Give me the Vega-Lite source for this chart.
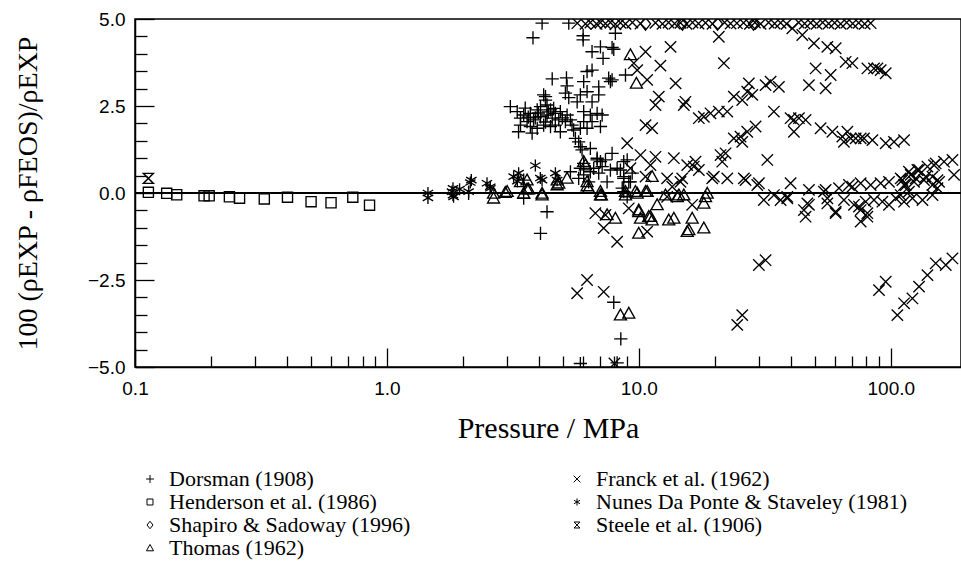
{
  "$schema": "https://vega.github.io/schema/vega-lite/v6.json",
  "width": 826,
  "height": 348,
  "autosize": {"type": "none"},
  "padding": {"left": 135, "top": 19, "right": 0, "bottom": 196},
  "background": "white",
  "config": {
    "view": {"stroke": "black", "strokeWidth": 1.5},
    "axis": {"grid": false, "tickColor": "black", "tickWidth": 1.3, "domainColor": "black", "domainWidth": 1.5, "labelColor": "black", "labelFont": "Liberation Sans", "labelFontSize": 19, "titleColor": "black", "titleFont": "Liberation Serif", "titleFontWeight": "normal"},
    "legend": {"labelFont": "serif", "labelFontSize": 22, "labelColor": "black"}
  },
  "data": {"values": [
    {"source":"Henderson et al. (1986)","p":0.113,"d":0.02},
    {"source":"Henderson et al. (1986)","p":0.1336,"d":-0.01},
    {"source":"Henderson et al. (1986)","p":0.1464,"d":-0.05},
    {"source":"Henderson et al. (1986)","p":0.188,"d":-0.08},
    {"source":"Henderson et al. (1986)","p":0.197,"d":-0.08},
    {"source":"Henderson et al. (1986)","p":0.237,"d":-0.11},
    {"source":"Henderson et al. (1986)","p":0.26,"d":-0.15},
    {"source":"Henderson et al. (1986)","p":0.326,"d":-0.17},
    {"source":"Henderson et al. (1986)","p":0.403,"d":-0.12},
    {"source":"Henderson et al. (1986)","p":0.50,"d":-0.25},
    {"source":"Henderson et al. (1986)","p":0.60,"d":-0.28},
    {"source":"Henderson et al. (1986)","p":0.732,"d":-0.12},
    {"source":"Henderson et al. (1986)","p":0.853,"d":-0.35},
    {"source":"Steele et al. (1906)","p":0.113,"d":0.42},
    {"source":"Shapiro & Sadoway (1996)","p":10.63,"d":4.86},
    {"source":"Shapiro & Sadoway (1996)","p":14.9,"d":4.86},
    {"source":"Shapiro & Sadoway (1996)","p":20.53,"d":4.86},
    {"source":"Shapiro & Sadoway (1996)","p":28.53,"d":4.86},
    {"source":"Nunes Da Ponte & Staveley (1981)","p":1.455,"d":0.0},
    {"source":"Nunes Da Ponte & Staveley (1981)","p":1.455,"d":-0.14},
    {"source":"Nunes Da Ponte & Staveley (1981)","p":1.829,"d":0.135},
    {"source":"Nunes Da Ponte & Staveley (1981)","p":1.829,"d":-0.06},
    {"source":"Nunes Da Ponte & Staveley (1981)","p":1.943,"d":0.11},
    {"source":"Nunes Da Ponte & Staveley (1981)","p":2.143,"d":0.30},
    {"source":"Nunes Da Ponte & Staveley (1981)","p":2.163,"d":0.37},
    {"source":"Nunes Da Ponte & Staveley (1981)","p":2.496,"d":0.28},
    {"source":"Nunes Da Ponte & Staveley (1981)","p":2.573,"d":0.18},
    {"source":"Nunes Da Ponte & Staveley (1981)","p":3.184,"d":0.47},
    {"source":"Nunes Da Ponte & Staveley (1981)","p":3.333,"d":0.57},
    {"source":"Nunes Da Ponte & Staveley (1981)","p":3.294,"d":0.34},
    {"source":"Nunes Da Ponte & Staveley (1981)","p":3.883,"d":0.79},
    {"source":"Nunes Da Ponte & Staveley (1981)","p":4.128,"d":0.37},
    {"source":"Nunes Da Ponte & Staveley (1981)","p":4.664,"d":0.57},
    {"source":"Nunes Da Ponte & Staveley (1981)","p":4.737,"d":0.37},
    {"source":"Nunes Da Ponte & Staveley (1981)","p":4.064,"d":0.43},
    {"source":"Nunes Da Ponte & Staveley (1981)","p":1.812,"d":0.04},
    {"source":"Nunes Da Ponte & Staveley (1981)","p":1.839,"d":-0.11},
    {"source":"Nunes Da Ponte & Staveley (1981)","p":2.11,"d":0.04},
    {"source":"Nunes Da Ponte & Staveley (1981)","p":2.573,"d":0.135},
    {"source":"Dorsman (1908)","p":4.13,"d":4.88},
    {"source":"Dorsman (1908)","p":3.80,"d":4.46},
    {"source":"Dorsman (1908)","p":6.01,"d":4.52},
    {"source":"Dorsman (1908)","p":6.01,"d":4.40},
    {"source":"Dorsman (1908)","p":6.52,"d":4.06},
    {"source":"Dorsman (1908)","p":7.04,"d":4.20},
    {"source":"Dorsman (1908)","p":7.21,"d":3.87},
    {"source":"Dorsman (1908)","p":7.83,"d":4.18},
    {"source":"Dorsman (1908)","p":4.53,"d":3.28},
    {"source":"Dorsman (1908)","p":5.16,"d":3.31},
    {"source":"Dorsman (1908)","p":5.19,"d":3.08},
    {"source":"Dorsman (1908)","p":6.23,"d":3.49},
    {"source":"Dorsman (1908)","p":6.52,"d":3.53},
    {"source":"Dorsman (1908)","p":6.04,"d":3.20},
    {"source":"Dorsman (1908)","p":7.59,"d":3.30},
    {"source":"Dorsman (1908)","p":7.71,"d":3.20},
    {"source":"Dorsman (1908)","p":5.11,"d":2.87},
    {"source":"Dorsman (1908)","p":5.27,"d":2.74},
    {"source":"Dorsman (1908)","p":5.86,"d":2.82},
    {"source":"Dorsman (1908)","p":6.23,"d":2.91},
    {"source":"Dorsman (1908)","p":6.93,"d":3.05},
    {"source":"Dorsman (1908)","p":6.93,"d":2.82},
    {"source":"Dorsman (1908)","p":4.19,"d":2.82},
    {"source":"Dorsman (1908)","p":4.26,"d":2.67},
    {"source":"Dorsman (1908)","p":5.69,"d":2.62},
    {"source":"Dorsman (1908)","p":6.52,"d":2.62},
    {"source":"Dorsman (1908)","p":3.09,"d":2.48},
    {"source":"Dorsman (1908)","p":3.29,"d":2.34},
    {"source":"Dorsman (1908)","p":3.49,"d":2.24},
    {"source":"Dorsman (1908)","p":3.71,"d":2.29},
    {"source":"Dorsman (1908)","p":3.95,"d":2.39},
    {"source":"Dorsman (1908)","p":4.07,"d":2.48},
    {"source":"Dorsman (1908)","p":4.32,"d":2.53},
    {"source":"Dorsman (1908)","p":4.59,"d":2.43},
    {"source":"Dorsman (1908)","p":4.88,"d":2.34},
    {"source":"Dorsman (1908)","p":5.19,"d":2.24},
    {"source":"Dorsman (1908)","p":3.39,"d":2.15},
    {"source":"Dorsman (1908)","p":3.60,"d":2.05},
    {"source":"Dorsman (1908)","p":3.82,"d":2.10},
    {"source":"Dorsman (1908)","p":4.07,"d":2.19},
    {"source":"Dorsman (1908)","p":4.32,"d":2.24},
    {"source":"Dorsman (1908)","p":4.53,"d":2.15},
    {"source":"Dorsman (1908)","p":4.81,"d":2.10},
    {"source":"Dorsman (1908)","p":5.11,"d":2.05},
    {"source":"Dorsman (1908)","p":5.43,"d":1.95},
    {"source":"Dorsman (1908)","p":3.71,"d":1.91},
    {"source":"Dorsman (1908)","p":3.95,"d":1.86},
    {"source":"Dorsman (1908)","p":4.19,"d":1.95},
    {"source":"Dorsman (1908)","p":4.46,"d":1.91},
    {"source":"Dorsman (1908)","p":4.88,"d":1.76},
    {"source":"Dorsman (1908)","p":3.33,"d":1.76},
    {"source":"Dorsman (1908)","p":3.77,"d":1.72},
    {"source":"Dorsman (1908)","p":5.51,"d":1.81},
    {"source":"Dorsman (1908)","p":5.86,"d":1.86},
    {"source":"Dorsman (1908)","p":6.23,"d":1.86},
    {"source":"Dorsman (1908)","p":7.04,"d":1.91},
    {"source":"Dorsman (1908)","p":6.04,"d":2.34},
    {"source":"Dorsman (1908)","p":6.42,"d":2.24},
    {"source":"Dorsman (1908)","p":6.83,"d":2.29},
    {"source":"Dorsman (1908)","p":7.15,"d":2.24},
    {"source":"Dorsman (1908)","p":6.04,"d":2.05},
    {"source":"Dorsman (1908)","p":6.52,"d":2.05},
    {"source":"Dorsman (1908)","p":5.60,"d":1.57},
    {"source":"Dorsman (1908)","p":5.77,"d":1.47},
    {"source":"Dorsman (1908)","p":5.86,"d":1.33},
    {"source":"Dorsman (1908)","p":5.95,"d":1.24},
    {"source":"Dorsman (1908)","p":6.42,"d":1.28},
    {"source":"Dorsman (1908)","p":4.46,"d":2.39},
    {"source":"Dorsman (1908)","p":4.66,"d":2.29},
    {"source":"Dorsman (1908)","p":3.54,"d":2.44},
    {"source":"Dorsman (1908)","p":3.88,"d":2.16},
    {"source":"Dorsman (1908)","p":4.26,"d":2.04},
    {"source":"Dorsman (1908)","p":4.66,"d":1.95},
    {"source":"Dorsman (1908)","p":3.39,"d":1.95},
    {"source":"Dorsman (1908)","p":3.99,"d":2.30},
    {"source":"Dorsman (1908)","p":4.37,"d":2.33},
    {"source":"Dorsman (1908)","p":3.64,"d":2.18},
    {"source":"Dorsman (1908)","p":4.97,"d":2.16},
    {"source":"Dorsman (1908)","p":5.35,"d":2.10},
    {"source":"Dorsman (1908)","p":8.07,"d":4.59},
    {"source":"Dorsman (1908)","p":7.95,"d":4.13},
    {"source":"Dorsman (1908)","p":8.85,"d":3.39},
    {"source":"Dorsman (1908)","p":7.83,"d":1.14},
    {"source":"Dorsman (1908)","p":8.99,"d":0.95},
    {"source":"Dorsman (1908)","p":6.83,"d":0.95},
    {"source":"Dorsman (1908)","p":7.15,"d":0.76},
    {"source":"Dorsman (1908)","p":7.71,"d":0.66},
    {"source":"Dorsman (1908)","p":8.45,"d":0.66},
    {"source":"Dorsman (1908)","p":8.71,"d":0.47},
    {"source":"Dorsman (1908)","p":9.12,"d":0.32},
    {"source":"Dorsman (1908)","p":9.41,"d":0.57},
    {"source":"Dorsman (1908)","p":5.86,"d":0.71},
    {"source":"Dorsman (1908)","p":6.04,"d":0.52},
    {"source":"Dorsman (1908)","p":6.42,"d":0.61},
    {"source":"Dorsman (1908)","p":7.04,"d":0.90},
    {"source":"Dorsman (1908)","p":7.37,"d":0.95},
    {"source":"Dorsman (1908)","p":6.04,"d":0.85},
    {"source":"Dorsman (1908)","p":6.62,"d":0.71},
    {"source":"Dorsman (1908)","p":6.93,"d":0.57},
    {"source":"Dorsman (1908)","p":5.35,"d":0.61},
    {"source":"Dorsman (1908)","p":5.77,"d":0.42},
    {"source":"Dorsman (1908)","p":6.32,"d":0.32},
    {"source":"Dorsman (1908)","p":7.48,"d":0.32},
    {"source":"Dorsman (1908)","p":7.83,"d":3.25},
    {"source":"Dorsman (1908)","p":8.20,"d":0.71},
    {"source":"Dorsman (1908)","p":8.71,"d":0.90},
    {"source":"Dorsman (1908)","p":8.71,"d":0.42},
    {"source":"Dorsman (1908)","p":9.26,"d":0.32},
    {"source":"Dorsman (1908)","p":8.59,"d":0.14},
    {"source":"Dorsman (1908)","p":4.32,"d":-0.54},
    {"source":"Dorsman (1908)","p":4.07,"d":-1.16},
    {"source":"Dorsman (1908)","p":3.49,"d":-0.15},
    {"source":"Dorsman (1908)","p":3.49,"d":0.37},
    {"source":"Dorsman (1908)","p":8.99,"d":-0.11},
    {"source":"Dorsman (1908)","p":7.95,"d":-3.14},
    {"source":"Dorsman (1908)","p":8.48,"d":-4.19},
    {"source":"Dorsman (1908)","p":5.86,"d":-4.90},
    {"source":"Dorsman (1908)","p":8.20,"d":-4.88},
    {"source":"Dorsman (1908)","p":8.71,"d":0.04},
    {"source":"Dorsman (1908)","p":5.27,"d":4.88},
    {"source":"Dorsman (1908)","p":4.26,"d":2.77},
    {"source":"Dorsman (1908)","p":6.83,"d":1.00},
    {"source":"Dorsman (1908)","p":2.11,"d":-0.01},
    {"source":"Thomas (1962)","p":9.26,"d":3.97},
    {"source":"Thomas (1962)","p":9.78,"d":3.15},
    {"source":"Thomas (1962)","p":11.29,"d":0.47},
    {"source":"Thomas (1962)","p":2.65,"d":-0.01},
    {"source":"Thomas (1962)","p":3.00,"d":0.04},
    {"source":"Thomas (1962)","p":3.49,"d":-0.01},
    {"source":"Thomas (1962)","p":4.13,"d":-0.01},
    {"source":"Thomas (1962)","p":3.39,"d":0.32},
    {"source":"Thomas (1962)","p":3.60,"d":0.37},
    {"source":"Thomas (1962)","p":4.74,"d":0.37},
    {"source":"Thomas (1962)","p":5.19,"d":0.42},
    {"source":"Thomas (1962)","p":6.23,"d":0.32},
    {"source":"Thomas (1962)","p":6.14,"d":0.80},
    {"source":"Thomas (1962)","p":7.04,"d":0.04},
    {"source":"Thomas (1962)","p":8.85,"d":0.04},
    {"source":"Thomas (1962)","p":9.69,"d":0.04},
    {"source":"Thomas (1962)","p":10.79,"d":0.04},
    {"source":"Thomas (1962)","p":12.75,"d":-0.06},
    {"source":"Thomas (1962)","p":15.08,"d":-0.06},
    {"source":"Thomas (1962)","p":18.68,"d":-0.01},
    {"source":"Thomas (1962)","p":2.65,"d":-0.15},
    {"source":"Thomas (1962)","p":2.95,"d":0.01},
    {"source":"Thomas (1962)","p":3.60,"d":0.11},
    {"source":"Thomas (1962)","p":4.13,"d":-0.06},
    {"source":"Thomas (1962)","p":4.81,"d":0.28},
    {"source":"Thomas (1962)","p":6.23,"d":0.20},
    {"source":"Thomas (1962)","p":7.04,"d":-0.06},
    {"source":"Thomas (1962)","p":7.48,"d":-0.63},
    {"source":"Thomas (1962)","p":8.07,"d":-0.73},
    {"source":"Thomas (1962)","p":8.85,"d":-0.06},
    {"source":"Thomas (1962)","p":9.85,"d":-0.01},
    {"source":"Thomas (1962)","p":9.99,"d":-0.54},
    {"source":"Thomas (1962)","p":10.15,"d":-0.73},
    {"source":"Thomas (1962)","p":11.12,"d":-0.68},
    {"source":"Thomas (1962)","p":11.29,"d":-0.78},
    {"source":"Thomas (1962)","p":11.82,"d":-0.34},
    {"source":"Thomas (1962)","p":13.14,"d":-0.78},
    {"source":"Thomas (1962)","p":13.77,"d":-0.73},
    {"source":"Thomas (1962)","p":14.42,"d":-0.06},
    {"source":"Thomas (1962)","p":15.79,"d":-1.06},
    {"source":"Thomas (1962)","p":16.28,"d":-0.73},
    {"source":"Thomas (1962)","p":18.11,"d":-1.01},
    {"source":"Thomas (1962)","p":18.11,"d":-0.30},
    {"source":"Thomas (1962)","p":9.99,"d":-1.16},
    {"source":"Thomas (1962)","p":8.45,"d":-3.51},
    {"source":"Thomas (1962)","p":9.12,"d":-3.46},
    {"source":"Thomas (1962)","p":15.56,"d":-1.11},
    {"source":"Thomas (1962)","p":10.95,"d":-0.68},
    {"source":"Thomas (1962)","p":9.99,"d":-0.49},
    {"source":"Thomas (1962)","p":10.63,"d":0.04},
    {"source":"Thomas (1962)","p":14.21,"d":-0.11},
    {"source":"Thomas (1962)","p":18.39,"d":-0.11},
    {"source":"Thomas (1962)","p":3.65,"d":0.11},
    {"source":"Thomas (1962)","p":4.74,"d":0.23},
    {"source":"Thomas (1962)","p":6.32,"d":0.14},
    {"source":"Thomas (1962)","p":7.10,"d":-0.06},
    {"source":"Thomas (1962)","p":6.04,"d":0.90},
    {"source":"Franck et al. (1962)","p":20.77,"d":4.49},
    {"source":"Franck et al. (1962)","p":21.75,"d":3.73},
    {"source":"Franck et al. (1962)","p":13.36,"d":4.20},
    {"source":"Franck et al. (1962)","p":10.63,"d":4.06},
    {"source":"Franck et al. (1962)","p":9.55,"d":3.73},
    {"source":"Franck et al. (1962)","p":9.85,"d":3.53},
    {"source":"Franck et al. (1962)","p":12.18,"d":3.66},
    {"source":"Franck et al. (1962)","p":10.79,"d":3.25},
    {"source":"Franck et al. (1962)","p":13.99,"d":3.15},
    {"source":"Franck et al. (1962)","p":12.00,"d":2.77},
    {"source":"Franck et al. (1962)","p":11.64,"d":2.53},
    {"source":"Franck et al. (1962)","p":15.31,"d":2.62},
    {"source":"Franck et al. (1962)","p":15.08,"d":2.53},
    {"source":"Franck et al. (1962)","p":17.30,"d":2.15},
    {"source":"Franck et al. (1962)","p":18.11,"d":2.19},
    {"source":"Franck et al. (1962)","p":19.25,"d":2.29},
    {"source":"Franck et al. (1962)","p":20.77,"d":2.34},
    {"source":"Franck et al. (1962)","p":22.44,"d":2.34},
    {"source":"Franck et al. (1962)","p":23.83,"d":2.77},
    {"source":"Franck et al. (1962)","p":25.73,"d":2.67},
    {"source":"Franck et al. (1962)","p":26.93,"d":2.91},
    {"source":"Franck et al. (1962)","p":28.20,"d":2.82},
    {"source":"Franck et al. (1962)","p":27.33,"d":3.15},
    {"source":"Franck et al. (1962)","p":31.84,"d":3.10},
    {"source":"Franck et al. (1962)","p":33.34,"d":3.20},
    {"source":"Franck et al. (1962)","p":35.97,"d":3.05},
    {"source":"Franck et al. (1962)","p":34.36,"d":2.34},
    {"source":"Franck et al. (1962)","p":47.33,"d":3.10},
    {"source":"Franck et al. (1962)","p":55.14,"d":3.01},
    {"source":"Franck et al. (1962)","p":50.32,"d":3.58},
    {"source":"Franck et al. (1962)","p":57.72,"d":3.39},
    {"source":"Franck et al. (1962)","p":49.55,"d":4.30},
    {"source":"Franck et al. (1962)","p":56.00,"d":4.20},
    {"source":"Franck et al. (1962)","p":60.42,"d":4.16},
    {"source":"Franck et al. (1962)","p":66.20,"d":3.77},
    {"source":"Franck et al. (1962)","p":70.39,"d":3.73},
    {"source":"Franck et al. (1962)","p":80.75,"d":3.58},
    {"source":"Franck et al. (1962)","p":88.49,"d":3.58},
    {"source":"Franck et al. (1962)","p":95.46,"d":3.44},
    {"source":"Franck et al. (1962)","p":85.78,"d":3.58},
    {"source":"Franck et al. (1962)","p":91.19,"d":3.53},
    {"source":"Franck et al. (1962)","p":44.55,"d":4.54},
    {"source":"Franck et al. (1962)","p":40.66,"d":4.73},
    {"source":"Franck et al. (1962)","p":10.63,"d":1.95},
    {"source":"Franck et al. (1962)","p":11.29,"d":1.86},
    {"source":"Franck et al. (1962)","p":8.99,"d":1.43},
    {"source":"Franck et al. (1962)","p":23.83,"d":1.57},
    {"source":"Franck et al. (1962)","p":25.73,"d":1.47},
    {"source":"Franck et al. (1962)","p":26.93,"d":1.76},
    {"source":"Franck et al. (1962)","p":29.06,"d":1.91},
    {"source":"Franck et al. (1962)","p":25.33,"d":1.62},
    {"source":"Franck et al. (1962)","p":41.26,"d":2.10},
    {"source":"Franck et al. (1962)","p":43.19,"d":2.15},
    {"source":"Franck et al. (1962)","p":45.91,"d":2.10},
    {"source":"Franck et al. (1962)","p":40.03,"d":2.15},
    {"source":"Franck et al. (1962)","p":41.26,"d":1.76},
    {"source":"Franck et al. (1962)","p":52.67,"d":1.86},
    {"source":"Franck et al. (1962)","p":58.63,"d":1.76},
    {"source":"Franck et al. (1962)","p":64.23,"d":1.62},
    {"source":"Franck et al. (1962)","p":67.24,"d":1.76},
    {"source":"Franck et al. (1962)","p":69.30,"d":1.57},
    {"source":"Franck et al. (1962)","p":72.54,"d":1.57},
    {"source":"Franck et al. (1962)","p":75.94,"d":1.57},
    {"source":"Franck et al. (1962)","p":65.18,"d":1.47},
    {"source":"Franck et al. (1962)","p":78.27,"d":1.57},
    {"source":"Franck et al. (1962)","p":84.53,"d":1.52},
    {"source":"Franck et al. (1962)","p":95.46,"d":1.43},
    {"source":"Franck et al. (1962)","p":103.0,"d":1.47},
    {"source":"Franck et al. (1962)","p":112.9,"d":1.52},
    {"source":"Franck et al. (1962)","p":32.35,"d":0.95},
    {"source":"Franck et al. (1962)","p":10.15,"d":1.09},
    {"source":"Franck et al. (1962)","p":11.64,"d":1.04},
    {"source":"Franck et al. (1962)","p":13.77,"d":1.00},
    {"source":"Franck et al. (1962)","p":15.56,"d":0.80},
    {"source":"Franck et al. (1962)","p":16.78,"d":0.90},
    {"source":"Franck et al. (1962)","p":17.30,"d":0.66},
    {"source":"Franck et al. (1962)","p":14.86,"d":0.42},
    {"source":"Franck et al. (1962)","p":21.10,"d":1.09},
    {"source":"Franck et al. (1962)","p":22.09,"d":1.14},
    {"source":"Franck et al. (1962)","p":21.43,"d":0.90},
    {"source":"Franck et al. (1962)","p":26.11,"d":0.42},
    {"source":"Franck et al. (1962)","p":22.44,"d":0.42},
    {"source":"Franck et al. (1962)","p":19.55,"d":0.42},
    {"source":"Franck et al. (1962)","p":29.52,"d":0.23},
    {"source":"Franck et al. (1962)","p":9.26,"d":0.71},
    {"source":"Franck et al. (1962)","p":11.12,"d":0.80},
    {"source":"Franck et al. (1962)","p":10.63,"d":0.47},
    {"source":"Franck et al. (1962)","p":12.95,"d":0.42},
    {"source":"Franck et al. (1962)","p":13.57,"d":0.18},
    {"source":"Franck et al. (1962)","p":16.52,"d":0.76},
    {"source":"Franck et al. (1962)","p":29.95,"d":0.28},
    {"source":"Franck et al. (1962)","p":40.03,"d":0.28},
    {"source":"Franck et al. (1962)","p":47.33,"d":0.09},
    {"source":"Franck et al. (1962)","p":54.29,"d":0.04},
    {"source":"Franck et al. (1962)","p":62.28,"d":0.14},
    {"source":"Franck et al. (1962)","p":68.24,"d":0.23},
    {"source":"Franck et al. (1962)","p":75.94,"d":0.28},
    {"source":"Franck et al. (1962)","p":83.22,"d":0.23},
    {"source":"Franck et al. (1962)","p":91.19,"d":0.28},
    {"source":"Franck et al. (1962)","p":98.39,"d":0.32},
    {"source":"Franck et al. (1962)","p":111.2,"d":0.37},
    {"source":"Franck et al. (1962)","p":120.0,"d":0.52},
    {"source":"Franck et al. (1962)","p":129.5,"d":0.66},
    {"source":"Franck et al. (1962)","p":139.8,"d":0.76},
    {"source":"Franck et al. (1962)","p":150.8,"d":0.85},
    {"source":"Franck et al. (1962)","p":162.7,"d":0.90},
    {"source":"Franck et al. (1962)","p":175.7,"d":0.95},
    {"source":"Franck et al. (1962)","p":178.3,"d":0.52},
    {"source":"Franck et al. (1962)","p":123.7,"d":0.32},
    {"source":"Franck et al. (1962)","p":135.5,"d":0.37},
    {"source":"Franck et al. (1962)","p":146.4,"d":0.47},
    {"source":"Franck et al. (1962)","p":155.5,"d":0.32},
    {"source":"Franck et al. (1962)","p":114.6,"d":0.23},
    {"source":"Franck et al. (1962)","p":125.6,"d":0.42},
    {"source":"Franck et al. (1962)","p":137.7,"d":0.47},
    {"source":"Franck et al. (1962)","p":153.2,"d":0.37},
    {"source":"Franck et al. (1962)","p":112.9,"d":0.23},
    {"source":"Franck et al. (1962)","p":146.4,"d":0.23},
    {"source":"Franck et al. (1962)","p":118.1,"d":0.61},
    {"source":"Franck et al. (1962)","p":127.6,"d":0.66},
    {"source":"Franck et al. (1962)","p":148.5,"d":0.80},
    {"source":"Franck et al. (1962)","p":109.5,"d":0.42},
    {"source":"Franck et al. (1962)","p":38.84,"d":-0.15},
    {"source":"Franck et al. (1962)","p":46.64,"d":-0.30},
    {"source":"Franck et al. (1962)","p":45.21,"d":-0.49},
    {"source":"Franck et al. (1962)","p":45.91,"d":-0.68},
    {"source":"Franck et al. (1962)","p":56.00,"d":-0.15},
    {"source":"Franck et al. (1962)","p":56.00,"d":-0.30},
    {"source":"Franck et al. (1962)","p":60.42,"d":-0.54},
    {"source":"Franck et al. (1962)","p":65.18,"d":-0.20},
    {"source":"Franck et al. (1962)","p":71.43,"d":-0.34},
    {"source":"Franck et al. (1962)","p":75.94,"d":-0.49},
    {"source":"Franck et al. (1962)","p":80.75,"d":-0.68},
    {"source":"Franck et al. (1962)","p":75.94,"d":-0.82},
    {"source":"Franck et al. (1962)","p":79.49,"d":-0.25},
    {"source":"Franck et al. (1962)","p":85.78,"d":-0.20},
    {"source":"Franck et al. (1962)","p":92.62,"d":-0.25},
    {"source":"Franck et al. (1962)","p":98.39,"d":-0.34},
    {"source":"Franck et al. (1962)","p":104.6,"d":-0.15},
    {"source":"Franck et al. (1962)","p":112.9,"d":-0.25},
    {"source":"Franck et al. (1962)","p":121.9,"d":-0.15},
    {"source":"Franck et al. (1962)","p":133.6,"d":-0.20},
    {"source":"Franck et al. (1962)","p":146.4,"d":-0.06},
    {"source":"Franck et al. (1962)","p":153.2,"d":0.14},
    {"source":"Franck et al. (1962)","p":109.5,"d":-0.06},
    {"source":"Franck et al. (1962)","p":118.1,"d":0.04},
    {"source":"Franck et al. (1962)","p":55.14,"d":0.09},
    {"source":"Franck et al. (1962)","p":70.39,"d":0.18},
    {"source":"Franck et al. (1962)","p":31.35,"d":-0.20},
    {"source":"Franck et al. (1962)","p":34.36,"d":-0.06},
    {"source":"Franck et al. (1962)","p":36.53,"d":-0.20},
    {"source":"Franck et al. (1962)","p":38.84,"d":-0.11},
    {"source":"Franck et al. (1962)","p":47.33,"d":-0.34},
    {"source":"Franck et al. (1962)","p":60.42,"d":-0.58},
    {"source":"Franck et al. (1962)","p":74.77,"d":-0.39},
    {"source":"Franck et al. (1962)","p":80.75,"d":-0.58},
    {"source":"Franck et al. (1962)","p":6.72,"d":-0.58},
    {"source":"Franck et al. (1962)","p":7.37,"d":-0.63},
    {"source":"Franck et al. (1962)","p":7.25,"d":-1.01},
    {"source":"Franck et al. (1962)","p":8.20,"d":-1.40},
    {"source":"Franck et al. (1962)","p":9.12,"d":-0.44},
    {"source":"Franck et al. (1962)","p":10.79,"d":-1.11},
    {"source":"Franck et al. (1962)","p":12.95,"d":-0.11},
    {"source":"Franck et al. (1962)","p":16.28,"d":-0.34},
    {"source":"Franck et al. (1962)","p":5.69,"d":-2.88},
    {"source":"Franck et al. (1962)","p":6.23,"d":-2.50},
    {"source":"Franck et al. (1962)","p":7.25,"d":-2.84},
    {"source":"Franck et al. (1962)","p":24.58,"d":-3.79},
    {"source":"Franck et al. (1962)","p":25.73,"d":-3.51},
    {"source":"Franck et al. (1962)","p":29.95,"d":-2.07},
    {"source":"Franck et al. (1962)","p":31.84,"d":-1.93},
    {"source":"Franck et al. (1962)","p":89.79,"d":-2.79},
    {"source":"Franck et al. (1962)","p":95.46,"d":-2.55},
    {"source":"Franck et al. (1962)","p":106.2,"d":-3.51},
    {"source":"Franck et al. (1962)","p":112.9,"d":-3.17},
    {"source":"Franck et al. (1962)","p":121.9,"d":-3.03},
    {"source":"Franck et al. (1962)","p":129.5,"d":-2.69},
    {"source":"Franck et al. (1962)","p":139.8,"d":-2.36},
    {"source":"Franck et al. (1962)","p":150.8,"d":-2.02},
    {"source":"Franck et al. (1962)","p":165.3,"d":-2.07},
    {"source":"Franck et al. (1962)","p":175.7,"d":-1.88},
    {"source":"Franck et al. (1962)","p":8.00,"d":-4.90},
    {"source":"Franck et al. (1962)","p":14.63,"d":0.32},
    {"source":"Franck et al. (1962)","p":19.84,"d":0.47},
    {"source":"Franck et al. (1962)","p":26.52,"d":0.37},
    {"source":"Franck et al. (1962)","p":5.70,"d":4.88},
    {"source":"Franck et al. (1962)","p":6.14,"d":4.86},
    {"source":"Franck et al. (1962)","p":6.42,"d":4.90},
    {"source":"Franck et al. (1962)","p":6.79,"d":4.86},
    {"source":"Franck et al. (1962)","p":7.04,"d":4.90},
    {"source":"Franck et al. (1962)","p":7.37,"d":4.87},
    {"source":"Franck et al. (1962)","p":7.71,"d":4.90},
    {"source":"Franck et al. (1962)","p":8.07,"d":4.85},
    {"source":"Franck et al. (1962)","p":8.45,"d":4.89},
    {"source":"Franck et al. (1962)","p":8.85,"d":4.86},
    {"source":"Franck et al. (1962)","p":9.43,"d":4.90},
    {"source":"Franck et al. (1962)","p":10.15,"d":4.87},
    {"source":"Franck et al. (1962)","p":11.64,"d":4.89},
    {"source":"Franck et al. (1962)","p":12.41,"d":4.86},
    {"source":"Franck et al. (1962)","p":13.12,"d":4.90},
    {"source":"Franck et al. (1962)","p":13.86,"d":4.87},
    {"source":"Franck et al. (1962)","p":14.63,"d":4.89},
    {"source":"Franck et al. (1962)","p":15.46,"d":4.86},
    {"source":"Franck et al. (1962)","p":16.33,"d":4.90},
    {"source":"Franck et al. (1962)","p":17.25,"d":4.87},
    {"source":"Franck et al. (1962)","p":18.39,"d":4.89},
    {"source":"Franck et al. (1962)","p":19.61,"d":4.86},
    {"source":"Franck et al. (1962)","p":21.89,"d":4.90},
    {"source":"Franck et al. (1962)","p":23.12,"d":4.87},
    {"source":"Franck et al. (1962)","p":24.50,"d":4.88},
    {"source":"Franck et al. (1962)","p":26.03,"d":4.89},
    {"source":"Franck et al. (1962)","p":27.60,"d":4.86},
    {"source":"Franck et al. (1962)","p":28.90,"d":4.90},
    {"source":"Franck et al. (1962)","p":30.42,"d":4.86},
    {"source":"Franck et al. (1962)","p":32.73,"d":4.90},
    {"source":"Franck et al. (1962)","p":34.60,"d":4.87},
    {"source":"Franck et al. (1962)","p":36.53,"d":4.89},
    {"source":"Franck et al. (1962)","p":38.59,"d":4.86},
    {"source":"Franck et al. (1962)","p":43.07,"d":4.90},
    {"source":"Franck et al. (1962)","p":45.50,"d":4.87},
    {"source":"Franck et al. (1962)","p":48.07,"d":4.89},
    {"source":"Franck et al. (1962)","p":50.79,"d":4.86},
    {"source":"Franck et al. (1962)","p":53.64,"d":4.90},
    {"source":"Franck et al. (1962)","p":56.67,"d":4.87},
    {"source":"Franck et al. (1962)","p":59.87,"d":4.89},
    {"source":"Franck et al. (1962)","p":63.24,"d":4.86},
    {"source":"Franck et al. (1962)","p":66.81,"d":4.90},
    {"source":"Franck et al. (1962)","p":70.58,"d":4.87},
    {"source":"Franck et al. (1962)","p":74.57,"d":4.89},
    {"source":"Franck et al. (1962)","p":78.77,"d":4.86},
    {"source":"Franck et al. (1962)","p":83.22,"d":4.88}
  ]},
  "layer": [
    {
      "mark": {"type": "rule", "color": "black", "strokeWidth": 1.3},
      "encoding": {"y": {"datum": 0, "type": "quantitative", "scale": {"domain": [-5, 5], "nice": false, "zero": false}, "axis": null}}
    },
    {
      "mark": {"type": "point", "opacity": 0},
      "encoding": {
        "x": {"field": "p", "type": "quantitative", "scale": {"type": "log", "domain": [0.1, 190], "nice": false},
          "axis": {"orient": "bottom", "values": [0.2, 0.3, 0.4, 0.5, 0.6, 0.7, 0.8, 0.9, 2, 3, 4, 5, 6, 7, 8, 9, 20, 30, 40, 50, 60, 70, 80, 90], "labels": false, "domain": false, "tickSize": -11, "title": null}},
        "y": {"field": "d", "type": "quantitative",
          "axis": {"orient": "left", "values": [-4.5, -4, -3.5, -3, -2, -1.5, -1, -0.5, 0.5, 1, 1.5, 2, 3, 3.5, 4, 4.5], "labels": false, "domain": false, "tickSize": -12, "title": null}}
      }
    },
    {
      "mark": {"type": "point", "filled": false, "color": "black", "strokeWidth": 1.35, "opacity": 1, "size": 160, "clip": true},
      "encoding": {
        "x": {"field": "p", "type": "quantitative",
          "axis": {"orient": "bottom", "values": [0.1, 1, 10, 100], "format": ".1f", "tickSize": -19, "labelPadding": 31, "labelFlush": false, "labelOverlap": false,
            "title": "Pressure / MPa", "titleFontSize": 30, "titleY": 70, "titleBaseline": "alphabetic"}},
        "y": {"field": "d", "type": "quantitative",
          "axis": {"orient": "left", "values": [-5, -2.5, 0, 2.5, 5], "format": ".1f", "tickSize": -19, "labelPadding": 29, "labelFlush": false, "labelOverlap": false,
            "title": "100 (ρEXP - ρFEOS)/ρEXP", "titleFontSize": 28, "titleX": -107, "titleY": 174, "titleAngle": 270, "titleBaseline": "middle", "titleAlign": "center"}},
        "shape": {"field": "source", "type": "nominal",
          "scale": {
            "domain": ["Dorsman (1908)", "Henderson et al. (1986)", "Shapiro & Sadoway (1996)", "Thomas (1962)", "Franck et al. (1962)", "Nunes Da Ponte & Staveley (1981)", "Steele et al. (1906)"],
            "range": ["M-1.05,0H1.05M0,-1.05V1.05", "M-0.8,-0.8H0.8V0.8H-0.8Z", "M0,-1L0.8,0L0,1L-0.8,0Z", "M0,-0.95L0.95,0.75L-0.95,0.75Z", "M-0.9,-0.9L0.9,0.9M0.9,-0.9L-0.9,0.9", "M0,-0.95V0.95M-0.82,-0.47L0.82,0.47M-0.82,0.47L0.82,-0.47", "M-0.8,-0.8H0.8L-0.8,0.8H0.8Z"]},
          "legend": {"orient": "none", "legendX": 4, "legendY": 449, "columns": 2, "columnPadding": 155, "rowPadding": 1, "padding": 0, "title": null, "labelFont": "serif", "labelFontSize": 22, "labelColor": "black", "labelOffset": 8, "labelLimit": 500, "symbolSize": 56, "symbolStrokeWidth": 1, "symbolStrokeColor": "black", "symbolFillColor": "transparent"}}
      }
    }
  ],
  "resolve": {"axis": {"x": "independent", "y": "independent"}}
}
